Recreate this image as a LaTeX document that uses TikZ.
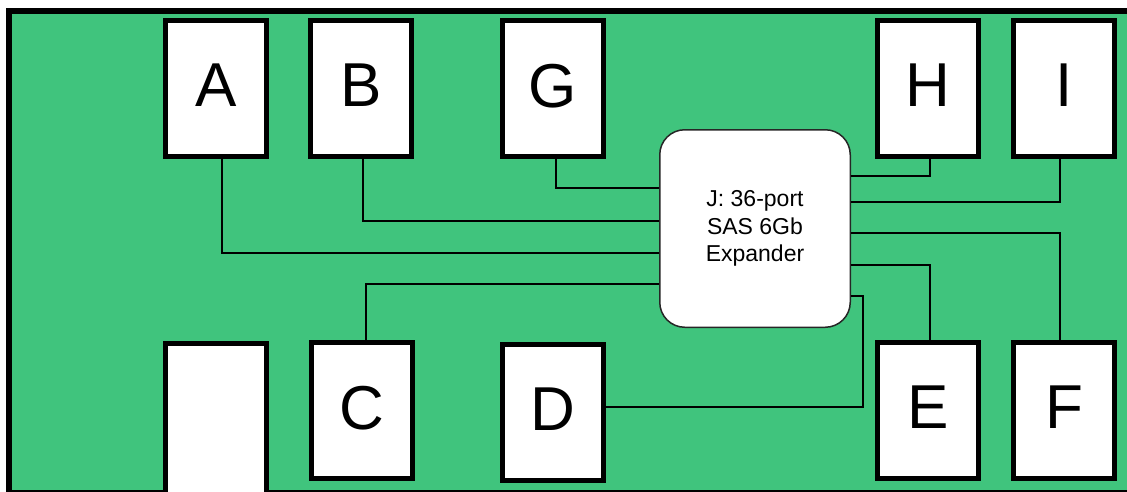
\documentclass[tikz,border=0pt]{standalone}
\usepackage{fontspec}
\setmainfont{Liberation Sans}
\definecolor{board}{RGB}{64,196,125}
\begin{document}
\begin{tikzpicture}[x=1pt,y=-1pt,
  port/.style={draw=black, fill=white, line width=5pt, minimum width=101pt, minimum height=136pt, inner sep=0pt, text depth=6pt, font=\fontsize{62}{62}\selectfont},
  wire/.style={draw=black, line width=1.3pt},
  hub/.style={draw=black!85, fill=white, line width=1.5pt, rounded corners=25pt, minimum width=190.5pt, minimum height=197.5pt, inner sep=0pt, align=center, font=\fontsize{23}{27.5}\selectfont}]
\useasboundingbox (0,0) rectangle (1127,491);
\clip (0,0) rectangle (1127,491);
\draw[fill=board, line width=5.5pt] (9,11) rectangle (1200,493);
% top row
\node[port] (A) at (216,88.5) {A};
\node[port] (B) at (361,88.5) {B};
\node[port] (G) at (552.5,88.5) {G};
\node[port] (H) at (928,88.5) {H};
\node[port] (I) at (1064,88.5) {I};
% bottom row
\node[port, minimum height=180pt] (P) at (216,433.5) {};
\node[port] (C) at (362,410.5) {C};
\node[port] (D) at (552.5,412.5) {D};
\node[port] (E) at (928,410.5) {E};
\node[port] (F) at (1064,410.5) {F};
% expander
\node[hub] (J) at (755,228.5) {J: 36-port\\SAS 6Gb\\Expander};
% wires
\draw[wire] ([xshift=3.5pt]G.south) |- (J.west |- 0,188);
\draw[wire] ([xshift=2pt]B.south) |- (J.west |- 0,221);
\draw[wire] ([xshift=6pt]A.south) |- (J.west |- 0,253);
\draw[wire] (J.west |- 0,284) -| ([xshift=4pt]C.north);
\draw[wire] ([xshift=2pt]H.south) |- (J.east |- 0,176);
\draw[wire] ([xshift=-4pt]I.south) |- (J.east |- 0,202);
\draw[wire] (J.east |- 0,233) -| ([xshift=-4pt]F.north);
\draw[wire] (J.east |- 0,265) -| ([xshift=2pt]E.north);
\draw[wire] ([yshift=5.5pt]D.east) -| (863,296) -- (J.east |- 0,296);
\end{tikzpicture}
\end{document}
